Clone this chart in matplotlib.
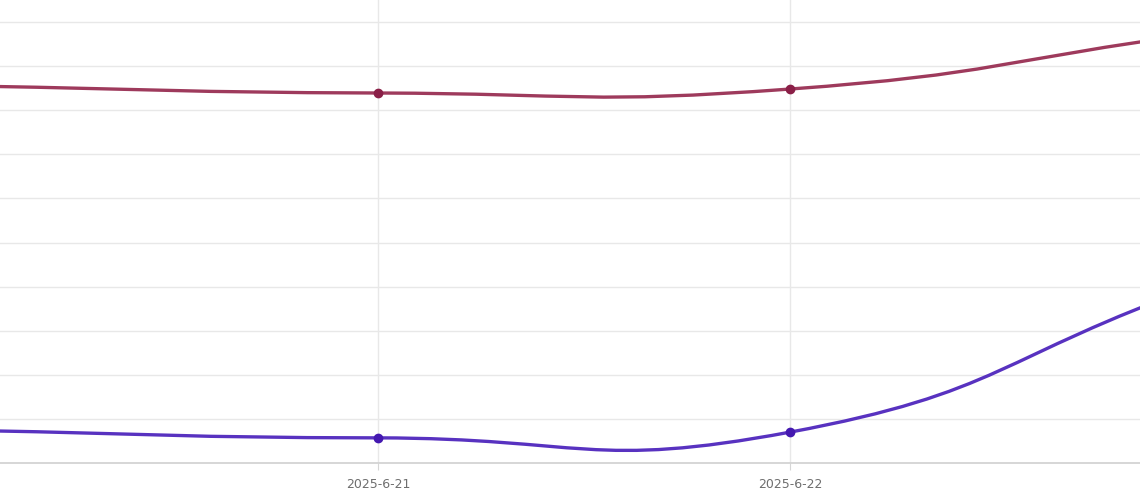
import numpy as np
import matplotlib.pyplot as plt
from matplotlib.path import Path
from matplotlib.patches import PathPatch

dates = ["2025-6-20", "2025-6-21", "2025-6-22", "2025-6-23"]
series_a = [8.55, 8.39, 8.48, 9.75]
series_b = [0.74, 0.57, 0.70, 4.05]

color_a = "#9e3a5c"
color_b = "#5832c0"
marker_a = "#8a1f47"
marker_b = "#4418b0"


def smooth_path(ax, xs, ys, smooth=0.5):
    # bezier control points computed in display space, like echarts' smooth line
    pts = ax.transData.transform(np.column_stack([xs, ys]))
    n = len(pts)
    cps = []
    for i in range(n):
        p = pts[i]
        prev = pts[i - 1] if i > 0 else p
        nxt = pts[i + 1] if i < n - 1 else p
        vec = (nxt - prev) * smooth
        d0 = np.hypot(*(p - prev))
        d1 = np.hypot(*(nxt - p))
        s = d0 + d1
        if s != 0:
            d0, d1 = d0 / s, d1 / s
        cps.append((p - vec * d0, p + vec * d1))
    verts = [pts[0]]
    codes = [Path.MOVETO]
    for i in range(n - 1):
        verts += [cps[i][1], cps[i + 1][0], pts[i + 1]]
        codes += [Path.CURVE4] * 3
    verts = ax.transData.inverted().transform(np.array(verts))
    return Path(verts, codes)


fig = plt.figure(figsize=(11.4, 5), dpi=100)
ax = fig.add_axes([0, 37 / 500, 1, 463 / 500])
x = np.arange(len(dates))

ax.set_yticks(np.arange(0, 11, 1))
ax.set_yticklabels([])
ax.tick_params(axis="y", length=0)
ax.set_xticks(x)
ax.set_xticklabels(dates, color="#6e6e6e", fontsize=9)
ax.tick_params(axis="x", length=5, color="#d6d6d6", pad=6)
ax.grid(True, color="#e8e8e8", linewidth=1)
ax.set_axisbelow(True)
for side in ["top", "right", "left"]:
    ax.spines[side].set_visible(False)
ax.spines["bottom"].set_color("#d0d0d0")
ax.spines["bottom"].set_linewidth(1.2)

# limits last, so the ticks don't widen them
ax.set_xlim(1 - 378 / 412, 2 + 350 / 412)
ax.set_ylim(0, 463 / 44.1)
ax.autoscale(False)

for ys, col, mcol in [(series_a, color_a, marker_a), (series_b, color_b, marker_b)]:
    path = smooth_path(ax, x, ys)
    ax.add_patch(PathPatch(path, facecolor="none", edgecolor=col, linewidth=2.4,
                           capstyle="round", zorder=3))
    ax.plot(x, ys, "o", color=mcol, markersize=6, zorder=4)

fig.savefig("out.png", dpi=100)
